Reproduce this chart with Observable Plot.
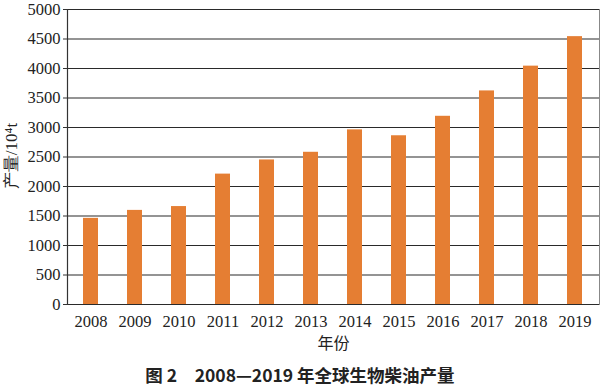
<!DOCTYPE html>
<html><head><meta charset="utf-8">
<script src="https://cdn.jsdelivr.net/npm/d3@7"></script>
<script src="https://cdn.jsdelivr.net/npm/@observablehq/plot@0.6"></script>
<style>
body{margin:0;background:#fff;}
#cap{width:600px;text-align:center;font-family:"Noto Sans CJK SC";font-weight:bold;font-size:17.5px;color:#222;line-height:20px;margin-top:7px;}
</style>
</head><body>
<div id="chart"></div>
<div id="cap">图 2　2008—2019 年全球生物柴油产量</div>
<script>
const years = ["2008","2009","2010","2011","2012","2013","2014","2015","2016","2017","2018","2019"];
const production = [1460,1595,1660,2210,2450,2580,2960,2860,3190,3620,4040,4540];
const yTicks = [0,500,1000,1500,2000,2500,3000,3500,4000,4500,5000];
const xLabel = "年份";
const yLabel = "产量/10⁴t";

const data = years.map((y,i)=>({year:y, value:production[i]}));
const serif = "Liberation Serif";
const chart = Plot.plot({
  width:600, height:358,
  marginTop:9, marginBottom:54, marginLeft:67, marginRight:1,
  style:{fontFamily:serif, fontSize:"16px", color:"#222", background:"#fff"},
  x:{type:"band", domain:years, paddingInner:0.655, paddingOuter:0.3275, label:null},
  y:{domain:[0,5000], label:null},
  marks:[
    Plot.ruleY(yTicks, {stroke:"#2a2a2a", strokeWidth:1.2}),
    Plot.frame({anchor:"right", stroke:"#888"}),
    Plot.barY(data, {x:"year", y:"value", fill:"#E57E33"}),
    Plot.frame({anchor:"left", stroke:"#333", strokeWidth:1.2}),
    Plot.axisX({tickSize:0, tickPadding:11, fontSize:16.5, fontFamily:serif, label:null}),
    Plot.axisY(yTicks, {tickSize:4, tickPadding:3, fontSize:16.5, fontFamily:serif, tickFormat:"d", label:null, stroke:"#333"}),
    Plot.text([xLabel], {frameAnchor:"bottom", dy:44, text:d=>d, fontFamily:"Noto Sans CJK SC", fontSize:16}),
  ]
});
const svg = d3.select(chart);
svg.append("text").attr("transform","translate(13,156) rotate(-90)")
  .attr("text-anchor","middle").attr("dominant-baseline","middle")
  .attr("font-family",serif).attr("font-size",17).attr("fill","#222")
  .text(yLabel);
document.getElementById("chart").appendChild(chart);
</script>
</body></html>
